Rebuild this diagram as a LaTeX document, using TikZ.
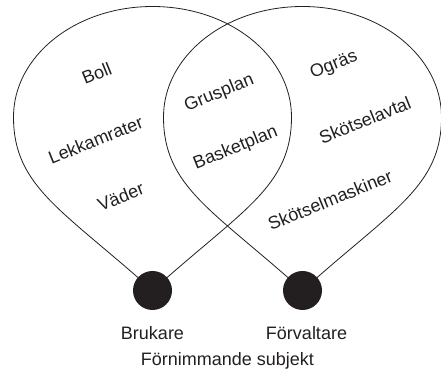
\documentclass[tikz,border=0pt]{standalone}
\usepackage{fontspec}
\setmainfont{Liberation Sans}
\usepackage{tikz}
\usetikzlibrary{positioning}

\definecolor{ink}{RGB}{35,31,32}

\begin{document}
\begin{tikzpicture}[x=1pt,y=1pt,line width=0.8pt,draw=ink,
                    every node/.style={text=ink,font=\fontsize{18}{22}\selectfont}]
  \tikzstyle{subjdot}=[circle,fill=ink,minimum size=39pt,inner sep=0pt]
  \tikzstyle{word}=[rotate=22,inner sep=0pt]
  \tikzstyle{subjlabel}=[anchor=base,inner sep=0pt]
  \useasboundingbox (0,0) rectangle (441,371);

  \node[subjdot] (bdot) at (152.5,80.5) {};
  \node[subjdot] (fdot) at (302.5,80.5) {};

  % the two drops, each hanging from its subject
  \foreach \s in {bdot,fdot}
    \draw[shift={(\s)}] (0,0)
      to[out=138,in=-90,out distance=120,in distance=70] (-139,173.5)
      to[out=90,in=180,out distance=61,in distance=77] (0,284)
      to[out=0,in=90,out distance=77,in distance=61] (139,173.5)
      to[out=-90,in=42,out distance=70,in distance=120] (0,0);

  \node[word] (boll)   at (96.7,297.7) {Boll};
  \node[word] (lekk)   at (95.7,231)   {Lekkamrater};
  \node[word] (vader)  at (120.7,174.3) {Väder};
  \node[word] (grus)   at (219.3,277.7) {Grusplan};
  \node[word] (basket) at (235.7,222.7) {Basketplan};
  \node[word] (ogras)  at (334,306)    {Ogräs};
  \node[word] (avtal)  at (365,251)    {Skötselavtal};
  \node[word] (maskin) at (330,171)    {Skötselmaskiner};

  \node[subjlabel] (bru)  at (152.5,31.7) {Brukare};
  \node[subjlabel] (forv) at (306.5,31.7) {Förvaltare};
  \node[subjlabel] (subj) at (227.5,5)    {Förnimmande subjekt};
\end{tikzpicture}
\end{document}
